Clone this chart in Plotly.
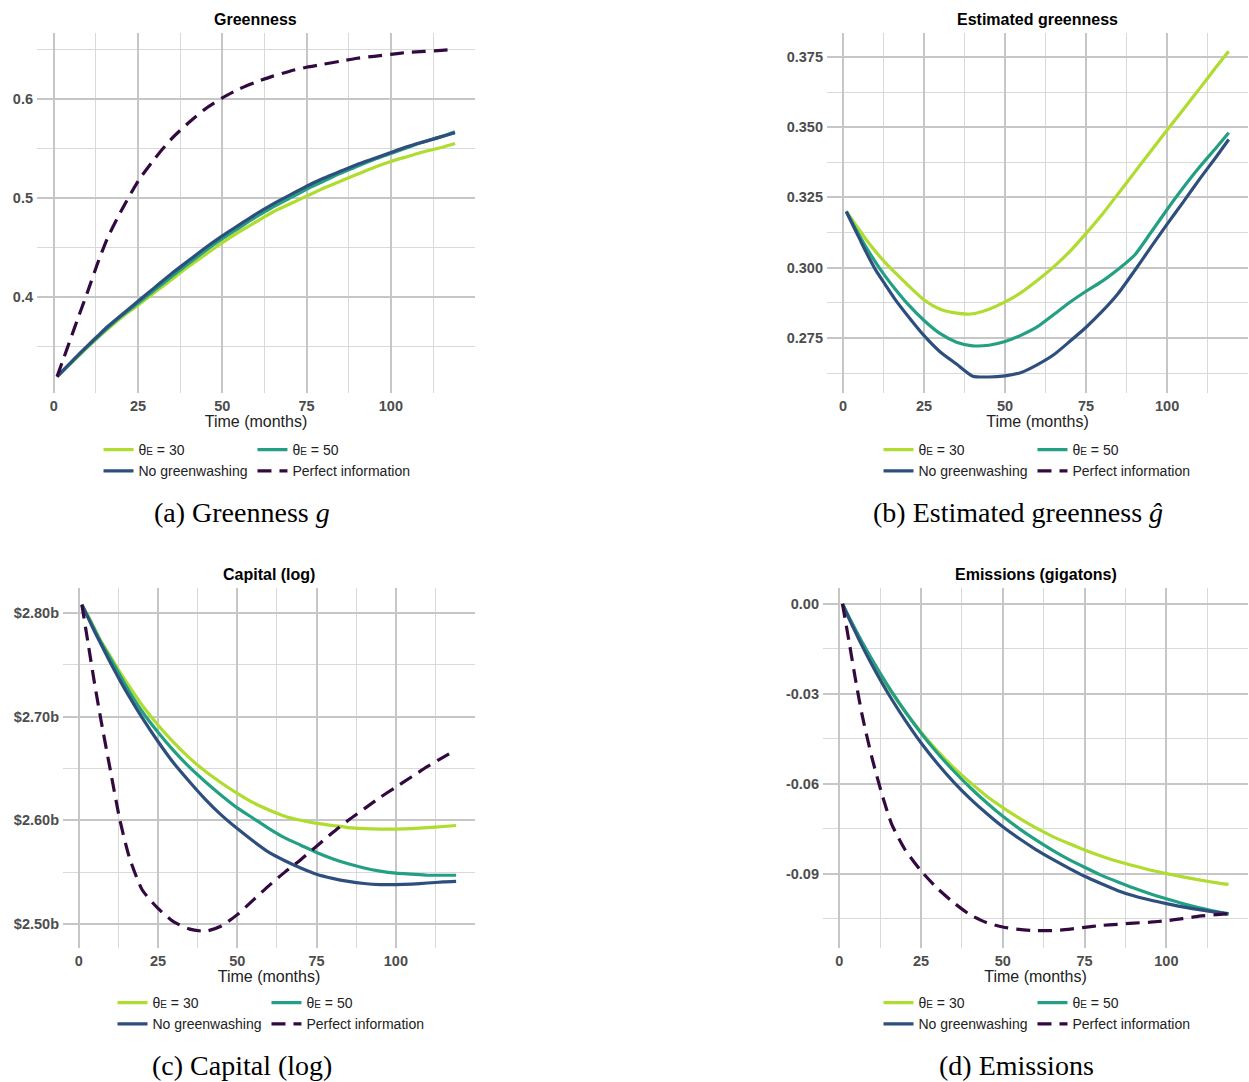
import plotly.graph_objects as go

# ---------------- data ----------------
months = [1, 3, 5, 7, 10, 13, 16, 20, 25, 30, 35, 40, 45, 50, 55, 60, 65, 70, 75,
          80, 85, 90, 95, 100, 105, 110, 115, 119]

series_names = ["θ<span style='font-size:10px'>E</span> = 30",
                "θ<span style='font-size:10px'>E</span> = 50",
                "No greenwashing", "Perfect information"]
series_colors = ["#afdc2f", "#23a083", "#2e4f7e", "#330a40"]

# (a) Greenness
green_30 = [0.320, 0.3265, 0.333, 0.3395, 0.3495, 0.359, 0.368, 0.3795, 0.392, 0.405, 0.418, 0.431,
            0.443, 0.455, 0.466, 0.476, 0.486, 0.494, 0.502, 0.510, 0.517, 0.524, 0.531, 0.537,
            0.542, 0.547, 0.551, 0.555]
green_50 = [0.320, 0.3267, 0.3335, 0.3402, 0.350, 0.3597, 0.369, 0.3808, 0.394, 0.4075, 0.421, 0.434,
            0.447, 0.459, 0.470, 0.481, 0.491, 0.500, 0.509, 0.517, 0.525, 0.532, 0.539, 0.545,
            0.551, 0.557, 0.562, 0.567]
green_nogw = [0.320, 0.327, 0.334, 0.341, 0.351, 0.3608, 0.3705, 0.382, 0.396, 0.410, 0.424, 0.437,
              0.450, 0.462, 0.473, 0.484, 0.494, 0.503, 0.512, 0.520, 0.527, 0.534, 0.540, 0.546,
              0.552, 0.557, 0.562, 0.566]
green_pi = [0.320, 0.339, 0.358, 0.377, 0.405, 0.434, 0.460, 0.487, 0.517, 0.540, 0.560, 0.576,
            0.590, 0.601, 0.610, 0.617, 0.623, 0.628, 0.632, 0.635, 0.638, 0.641, 0.643, 0.645,
            0.647, 0.648, 0.649, 0.650]

# (b) Estimated greenness
est_30 = [0.3200, 0.3167, 0.3135, 0.3102, 0.3058, 0.3018, 0.2983, 0.2938, 0.2885, 0.2852, 0.2838,
          0.2836, 0.2852, 0.2878, 0.2912, 0.2955, 0.3003, 0.3058, 0.3122, 0.3190, 0.3265, 0.3340,
          0.3415, 0.3490, 0.3563, 0.3637, 0.3712, 0.3770]
est_50 = [0.3200, 0.3157, 0.3115, 0.3075, 0.3020, 0.2970, 0.2925, 0.2870, 0.2812, 0.2765, 0.2735,
          0.2722, 0.2724, 0.2737, 0.2760, 0.2790, 0.2833, 0.2877, 0.2916, 0.2952, 0.2995, 0.3045,
          0.3125, 0.3207, 0.3285, 0.3358, 0.3425, 0.3480]
est_nogw = [0.3200, 0.3152, 0.3105, 0.3058, 0.2993, 0.2940, 0.2888, 0.2828, 0.2758, 0.2700, 0.2657,
            0.2614, 0.2611, 0.2615, 0.2627, 0.2655, 0.2690, 0.2738, 0.2788, 0.2845, 0.2910, 0.2990,
            0.3073, 0.3155, 0.3234, 0.3315, 0.3392, 0.3456]

# (c) Capital (log), billions
cap_30 = [2.808, 2.797, 2.785, 2.773, 2.758, 2.743, 2.729, 2.711, 2.692, 2.675, 2.660, 2.647,
          2.636, 2.626, 2.617, 2.610, 2.604, 2.600, 2.597, 2.595, 2.593, 2.592, 2.5915, 2.5915,
          2.592, 2.593, 2.594, 2.595]
cap_50 = [2.808, 2.796, 2.784, 2.772, 2.756, 2.740, 2.724, 2.705, 2.685, 2.667, 2.651, 2.637,
          2.624, 2.612, 2.602, 2.592, 2.583, 2.576, 2.569, 2.563, 2.558, 2.554, 2.551, 2.549,
          2.548, 2.547, 2.547, 2.547]
cap_nogw = [2.808, 2.795, 2.782, 2.770, 2.752, 2.735, 2.719, 2.699, 2.676, 2.655, 2.637, 2.620,
            2.605, 2.592, 2.580, 2.569, 2.561, 2.554, 2.548, 2.544, 2.541, 2.539, 2.538, 2.538,
            2.5385, 2.5395, 2.5405, 2.541]
cap_pi = [2.808, 2.770, 2.732, 2.697, 2.648, 2.600, 2.564, 2.533, 2.515, 2.502, 2.495, 2.493,
          2.498, 2.509, 2.523, 2.537, 2.550, 2.562, 2.575, 2.588, 2.600, 2.611, 2.622, 2.632,
          2.642, 2.652, 2.661, 2.668]

# (d) Emissions (gigatons)
emi_30 = [0.0000, -0.0045, -0.0089, -0.0130, -0.0188, -0.0243, -0.0294, -0.0357, -0.0427, -0.0490,
          -0.0546, -0.0595, -0.0640, -0.0679, -0.0714, -0.0746, -0.0774, -0.0798, -0.0820, -0.0840,
          -0.0858, -0.0873, -0.0887, -0.0899, -0.0910, -0.0920, -0.0929, -0.0935]
emi_50 = [0.0000, -0.0044, -0.0086, -0.0127, -0.0185, -0.0240, -0.0292, -0.0356, -0.0430, -0.0497,
          -0.0557, -0.0612, -0.0662, -0.0708, -0.0749, -0.0786, -0.0820, -0.0851, -0.0878, -0.0904,
          -0.0926, -0.0947, -0.0966, -0.0983, -0.0999, -0.1013, -0.1025, -0.1035]
emi_nogw = [0.0000, -0.0049, -0.0095, -0.0140, -0.0203, -0.0262, -0.0317, -0.0385, -0.0463, -0.0532,
            -0.0594, -0.0649, -0.0698, -0.0743, -0.0782, -0.0818, -0.0850, -0.0880, -0.0908, -0.0932,
            -0.0955, -0.0973, -0.0987, -0.0999, -0.1010, -0.1019, -0.1027, -0.1032]
emi_pi = [0.0000, -0.0125, -0.0253, -0.0370, -0.0512, -0.0632, -0.0733, -0.0817, -0.0890, -0.0948,
          -0.0996, -0.1036, -0.1062, -0.1077, -0.1085, -0.1089, -0.1089, -0.1085, -0.1078, -0.1072,
          -0.1068, -0.1064, -0.1061, -0.1056, -0.1049, -0.1041, -0.1036, -0.1033]

# tick labels
x_tickvals = [0, 25, 50, 75, 100]
x_ticktext = ["0", "25", "50", "75", "100"]
x_minorvals = [12.5, 37.5, 62.5, 87.5, 112.5]

ya_tickvals = [0.4, 0.5, 0.6]
ya_ticktext = ["0.4", "0.5", "0.6"]
ya_minorvals = [0.35, 0.45, 0.55, 0.65]

yb_tickvals = [0.275, 0.300, 0.325, 0.350, 0.375]
yb_ticktext = ["0.275", "0.300", "0.325", "0.350", "0.375"]
yb_minorvals = [0.2625, 0.2875, 0.3125, 0.3375, 0.3625]

yc_tickvals = [2.5, 2.6, 2.7, 2.8]
yc_ticktext = ["$2.50b", "$2.60b", "$2.70b", "$2.80b"]
yc_minorvals = [2.55, 2.65, 2.75]

yd_tickvals = [0.0, -0.03, -0.06, -0.09]
yd_ticktext = ["0.00", "-0.03", "-0.06", "-0.09"]
yd_minorvals = [-0.015, -0.045, -0.075, -0.105]

panel_titles = ["Greenness", "Estimated greenness", "Capital (log)", "Emissions (gigatons)"]
captions = ["(a) Greenness <i>g</i>", "(b) Estimated greenness <i>ĝ</i>",
            "(c) Capital (log)", "(d) Emissions"]
x_title = "Time (months)"

# ---------------- figure ----------------
W, H = 1249, 1082
SANS = "Liberation Sans, Arial, sans-serif"
SERIF = "Liberation Serif, Times New Roman, serif"
MAJ = "#c6c6c6"
MIN = "#d9d9d9"


def px_x(v):
    return v / W


def px_y(v):
    return 1 - v / H


panels = [
    dict(xa="x", ya="y", leg="legend", grp="a",
         ys=[green_30, green_50, green_nogw, green_pi],
         xdom=[37, 475], ydom=[33, 393], yr=[0.3035, 0.6665],
         ytv=ya_tickvals, ytt=ya_ticktext, ymv=ya_minorvals,
         legx=257, legy=434, capx=242, capy=512),
    dict(xa="x2", ya="y2", leg="legend2", grp="b",
         ys=[est_30, est_50, est_nogw],
         xdom=[827, 1248], ydom=[33, 393], yr=[0.2554, 0.3835],
         ytv=yb_tickvals, ytt=yb_ticktext, ymv=yb_minorvals,
         legx=1037, legy=434, capx=1018, capy=512),
    dict(xa="x3", ya="y3", leg="legend3", grp="c",
         ys=[cap_30, cap_50, cap_nogw, cap_pi],
         xdom=[63, 475], ydom=[588, 948], yr=[2.4768, 2.8241],
         ytv=yc_tickvals, ytt=yc_ticktext, ymv=yc_minorvals,
         legx=271, legy=987, capx=242, capy=1065),
    dict(xa="x4", ya="y4", leg="legend4", grp="d",
         ys=[emi_30, emi_50, emi_nogw, emi_pi],
         xdom=[823, 1248], ydom=[588, 948], yr=[-0.1147, 0.0053],
         ytv=yd_tickvals, ytt=yd_ticktext, ymv=yd_minorvals,
         legx=1037, legy=987, capx=1017, capy=1065),
]

fig = go.Figure()
layout = dict(
    width=W, height=H, template="none",
    margin=dict(l=0, r=0, t=0, b=0),
    paper_bgcolor="white", plot_bgcolor="white",
    font=dict(family=SANS, color="#222222"),
    annotations=[],
)

tickfont = dict(family=SANS, size=14.5, color="#4d4d4d", weight="bold")

for i, p in enumerate(panels):
    for j, yv in enumerate(p["ys"]):
        is_pi = (j == 3)
        fig.add_trace(go.Scatter(
            x=months, y=yv, mode="lines", name=series_names[j],
            line=dict(color=series_colors[j], width=3.2,
                      dash="14px,8px" if is_pi else "solid",
                      shape="spline", smoothing=0.6),
            xaxis=p["xa"], yaxis=p["ya"], legend=p["leg"],
            legendgroup=p["grp"] + ("1" if j in (0, 2) else "2"),
            hoverinfo="x+y+name",
        ))
    # PI series absent in panel (b): still show legend entry
    if len(p["ys"]) == 3:
        fig.add_trace(go.Scatter(
            x=[None], y=[None], mode="lines", name=series_names[3],
            line=dict(color=series_colors[3], width=3.2, dash="14px,8px"),
            xaxis=p["xa"], yaxis=p["ya"], legend=p["leg"],
            legendgroup=p["grp"] + "2",
        ))

    xkey = "xaxis" if i == 0 else f"xaxis{i + 1}"
    ykey = "yaxis" if i == 0 else f"yaxis{i + 1}"
    layout[xkey] = dict(
        domain=[px_x(p["xdom"][0]), px_x(p["xdom"][1])], anchor=p["ya"],
        range=[-4.95, 124.95], tickmode="array", tickvals=x_tickvals, ticktext=x_ticktext,
        showgrid=True, gridcolor=MAJ, gridwidth=1.6, zeroline=False, showline=False,
        ticks="", ticklabelstandoff=2, tickfont=tickfont,
        minor=dict(tickmode="array", tickvals=x_minorvals, showgrid=True,
                   gridcolor=MIN, gridwidth=1.1, ticks=""),
        title=dict(text=x_title, font=dict(family=SANS, size=16, color="#222222"), standoff=2),
        automargin=False, fixedrange=True,
    )
    layout[ykey] = dict(
        domain=[px_y(p["ydom"][1]), px_y(p["ydom"][0])], anchor=p["xa"],
        range=p["yr"], tickmode="array", tickvals=p["ytv"], ticktext=p["ytt"],
        showgrid=True, gridcolor=MAJ, gridwidth=1.6, zeroline=False, showline=False,
        ticks="", ticklabelstandoff=3, tickfont=tickfont,
        minor=dict(tickmode="array", tickvals=p["ymv"], showgrid=True,
                   gridcolor=MIN, gridwidth=1.1, ticks=""),
        automargin=False, fixedrange=True,
    )
    layout[p["leg"]] = dict(
        orientation="h", traceorder="grouped", tracegroupgap=0,
        x=px_x(p["legx"]), xanchor="center", y=px_y(p["legy"]), yanchor="top",
        xref="paper", yref="paper", itemwidth=30,
        font=dict(family=SANS, size=14, color="#222222"),
        bgcolor="rgba(0,0,0,0)", borderwidth=0,
    )
    cx = (p["xdom"][0] + p["xdom"][1]) / 2
    ty = p["ydom"][0] - 14
    layout["annotations"].append(dict(
        text=panel_titles[i], xref="paper", yref="paper",
        x=px_x(cx), y=px_y(ty), xanchor="center", yanchor="middle", showarrow=False,
        font=dict(family=SANS, size=16, color="#000000", weight="bold"),
    ))
    layout["annotations"].append(dict(
        text=captions[i], xref="paper", yref="paper",
        x=px_x(p["capx"]), y=px_y(p["capy"]), xanchor="center", yanchor="middle",
        showarrow=False, font=dict(family=SERIF, size=28, color="#000000"),
    ))

fig.update_layout(**layout)
fig.write_html("out.html")
